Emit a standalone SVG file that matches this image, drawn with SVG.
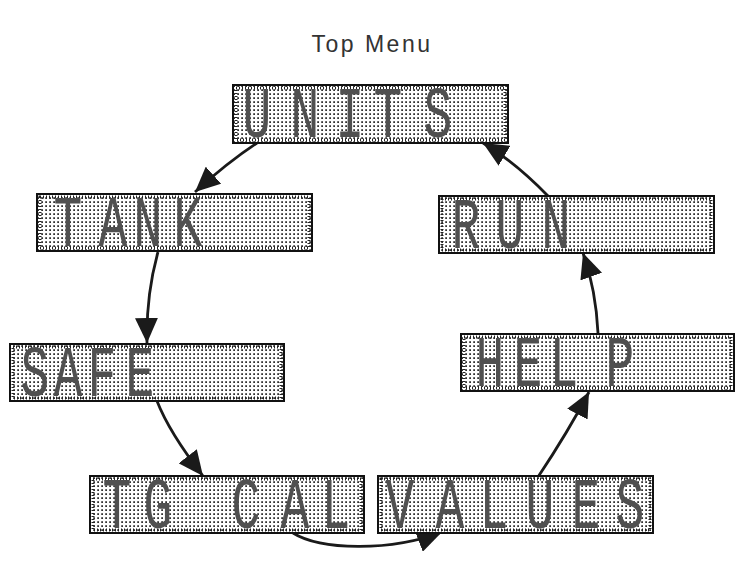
<svg xmlns="http://www.w3.org/2000/svg" width="753" height="573" viewBox="0 0 753 573">
  <style>
    .box { fill: url(#dots); stroke: #111; stroke-width: 2; }
    .band { fill: none; stroke: #222; stroke-width: 3; stroke-dasharray: 1 2; }
    .lcd { font-family: "Liberation Mono", "DejaVu Sans Mono", monospace; font-size: 48px; fill: #505050; text-anchor: middle; }
    .title { font-family: "Liberation Sans", Arial, sans-serif; font-size: 23px; fill: #333; letter-spacing: 2.5px; text-anchor: middle; }
    .conn { fill: none; stroke: #1a1a1a; stroke-width: 2.8; marker-end: url(#arrow); }
  </style>
  <defs>
    <pattern id="dots" width="4" height="4" patternUnits="userSpaceOnUse">
      <rect width="4" height="4" fill="#fff"/>
      <rect x="1.3" y="1.3" width="1.6" height="1.6" fill="#000"/>
    </pattern>
    <marker id="arrow" viewBox="0 0 25 23" refX="25" refY="11.5" markerWidth="25" markerHeight="23" markerUnits="userSpaceOnUse" orient="auto">
      <path d="M0,0 L25,11.5 L0,23 Z" fill="#1a1a1a"/>
    </marker>
  </defs>
  <rect width="753" height="573" fill="#fff"/>

  <text class="title" x="372" y="52">Top Menu</text>

  <g id="connectors">
    <path class="conn" d="M257,143 Q228,162 195,192"/>
    <path class="conn" d="M158,252 Q146,295 147,343"/>
    <path class="conn" d="M157,401 Q169,432 203,476"/>
    <path class="conn" d="M293,533 C320,550 390,552 442,532"/>
    <path class="conn" d="M538,477 Q568,432 589,392"/>
    <path class="conn" d="M598,333 Q596,290 583,253"/>
    <path class="conn" d="M548,196 Q515,162 483,143"/>
  </g>

  <g id="node-units">
    <rect class="box" x="233" y="85" width="275" height="58"/>
    <rect class="band" x="236" y="88" width="269" height="52"/>
    <text class="lcd" transform="translate(0,137) scale(1,1.5)" x="257 305 350 388 438" y="0">UNITS</text>
  </g>
  <g id="node-tank">
    <rect class="box" x="37" y="194" width="275" height="57"/>
    <rect class="band" x="40" y="197" width="269" height="51"/>
    <text class="lcd" transform="translate(0,246) scale(1,1.5)" x="68 113 148 188" y="0">TANK</text>
  </g>
  <g id="node-safe">
    <rect class="box" x="10" y="344" width="274" height="57"/>
    <rect class="band" x="13" y="347" width="268" height="51"/>
    <text class="lcd" transform="translate(0,396) scale(1,1.5)" x="35 68 102 140" y="0">SAFE</text>
  </g>
  <g id="node-tgcal">
    <rect class="box" x="90" y="476" width="274" height="57"/>
    <rect class="band" x="93" y="479" width="268" height="51"/>
    <text class="lcd" transform="translate(0,528) scale(1,1.5)" x="117 158 202 246 295 336" y="0">TG CAL</text>
  </g>
  <g id="node-values">
    <rect class="box" x="378" y="476" width="275" height="57"/>
    <rect class="band" x="381" y="479" width="269" height="51"/>
    <text class="lcd" transform="translate(0,528) scale(1,1.5)" x="400 450 494 540 586 630" y="0">VALUES</text>
  </g>
  <g id="node-help">
    <rect class="box" x="461" y="334" width="273" height="57"/>
    <rect class="band" x="464" y="337" width="267" height="51"/>
    <text class="lcd" transform="translate(0,386) scale(1,1.5)" x="490 528 564 620" y="0">HELP</text>
  </g>
  <g id="node-run">
    <rect class="box" x="439" y="196" width="275" height="57"/>
    <rect class="band" x="442" y="199" width="269" height="51"/>
    <text class="lcd" transform="translate(0,248) scale(1,1.5)" x="466 510 556" y="0">RUN</text>
  </g>
</svg>
